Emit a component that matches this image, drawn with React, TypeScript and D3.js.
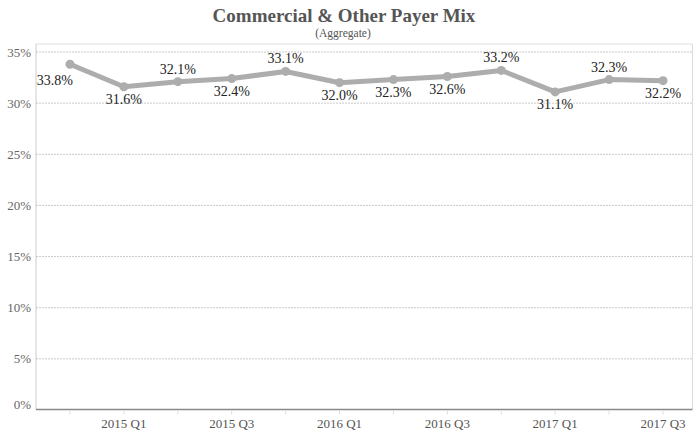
import React from "react";
import * as d3 from "d3";

const categories = [
  "2014 Q4", "2015 Q1", "2015 Q2", "2015 Q3", "2015 Q4", "2016 Q1",
  "2016 Q2", "2016 Q3", "2016 Q4", "2017 Q1", "2017 Q2", "2017 Q3",
];
const values = [33.8, 31.6, 32.1, 32.4, 33.1, 32.0, 32.3, 32.6, 33.2, 31.1, 32.3, 32.2];
const labelSides = ["belowLeft", "below", "above", "below", "above", "below", "below", "below", "above", "below", "above", "below"];
const shownTicks = ["2015 Q1", "2015 Q3", "2016 Q1", "2016 Q3", "2017 Q1", "2017 Q3"];
const yTicks = [0, 5, 10, 15, 20, 25, 30, 35];

const W = 694;
const H = 433;
const plotLeft = 36;
const plotRight = 692.5;
const plotTop = 44;
const plotBottom = 409.5;
const FONT = "Liberation Serif, Times New Roman, serif";

export default function App() {
  const x = d3.scalePoint<string>().domain(categories).range([70, 663]);
  const y = d3.scaleLinear().domain([0, 35]).range([410, 52]);
  const line = d3
    .line<number>()
    .x((_, i) => x(categories[i]) as number)
    .y((d) => y(d));

  const labelW = 38;
  return (
    <svg
      width={W}
      height={H}
      style={{ position: "absolute", left: 0, top: 0, background: "#fff" }}
      fontFamily={FONT}
    >
      <text x={344} y={22} textAnchor="middle" fontSize={19} fontWeight="bold" fill="#555">
        Commercial &amp; Other Payer Mix
      </text>
      <text x={343} y={37} textAnchor="middle" fontSize={11.5} fill="#555">
        (Aggregate)
      </text>

      {/* frame */}
      <line x1={plotLeft} x2={plotRight} y1={plotTop} y2={plotTop} stroke="#ddd" />
      <line x1={plotRight} x2={plotRight} y1={plotTop} y2={plotBottom} stroke="#ddd" />
      <line x1={plotLeft} x2={plotLeft} y1={plotTop} y2={plotBottom} stroke="#ccc" />

      {/* gridlines */}
      {yTicks.filter((t) => t > 0).map((t) => (
        <line
          key={t}
          x1={plotLeft}
          x2={plotRight}
          y1={y(t)}
          y2={y(t)}
          stroke="#bbb"
          strokeDasharray="2,1"
          strokeWidth={0.8}
        />
      ))}
      {yTicks.map((t) => (
        <text
          key={"yl" + t}
          x={31}
          y={y(t) + (t === 0 ? -1.5 : 4.5)}
          textAnchor="end"
          fontSize={13}
          fill="#666"
        >
          {t}%
        </text>
      ))}

      {/* x axis */}
      <line x1={plotLeft} x2={plotRight} y1={plotBottom} y2={plotBottom} stroke="#888" strokeWidth={1.5} />
      {categories.map((c) => (
        <line
          key={"tk" + c}
          x1={x(c)}
          x2={x(c)}
          y1={plotBottom + 1}
          y2={plotBottom + 5}
          stroke="#ddd"
        />
      ))}
      {shownTicks.map((c) => (
        <text key={"xl" + c} x={x(c)} y={428} textAnchor="middle" fontSize={13} fill="#555">
          {c}
        </text>
      ))}

      {/* line */}
      <path d={line(values) || ""} fill="none" stroke="#adadad" strokeWidth={5} strokeLinejoin="round" />
      {values.map((v, i) => (
        <circle key={"pt" + i} cx={x(categories[i])} cy={y(v)} r={4.5} fill="#adadad" />
      ))}

      {/* labels */}
      {values.map((v, i) => {
        const px = x(categories[i]) as number;
        const side = labelSides[i];
        if (side === "belowLeft") {
          return (
            <text key={"lb" + i} x={px + 3} y={y(v) + 21} textAnchor="end" fontSize={14} fill="#222">
              {v.toFixed(1)}%
            </text>
          );
        }
        let cx = px;
        if (cx - labelW / 2 < plotLeft + 1) cx = plotLeft + 1 + labelW / 2;
        if (cx + labelW / 2 > plotRight) cx = plotRight - labelW / 2;
        const ly = side === "above" ? y(v) - 8 : y(v) + 17;
        return (
          <text key={"lb" + i} x={cx} y={ly} textAnchor="middle" fontSize={14} fill="#222">
            {v.toFixed(1)}%
          </text>
        );
      })}
    </svg>
  );
}
